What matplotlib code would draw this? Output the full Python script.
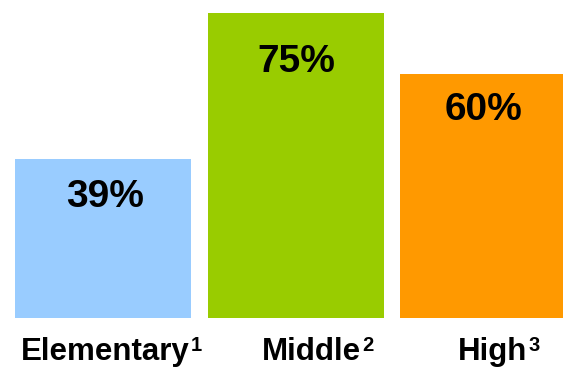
import matplotlib
matplotlib.use("Agg")
import matplotlib.pyplot as plt

plt.rcParams["font.family"] = ["Liberation Sans", "DejaVu Sans"]

# School levels and the share for each
levels = ["Elementary", "Middle", "High"]
footnotes = ["1", "2", "3"]
percent = [39, 75, 60]
colors = ["#99CCFF", "#99CC00", "#FF9900"]

W, H, DPI = 563, 371, 100
fig = plt.figure(figsize=(W / DPI, H / DPI), dpi=DPI)
fig.patch.set_facecolor("white")

# plot area: baseline of bars at 318 px from the top, 75% reaches 13 px
ax = fig.add_axes([0, (H - 318) / H, 1, (318 - 13) / H])
pitch = 192.5
first_center = 103
ax.set_xlim(-first_center / pitch, (W - first_center) / pitch)
ax.set_ylim(0, 75)
ax.axis("off")

xs = list(range(len(levels)))
ax.bar(xs, percent, width=176 / pitch, color=colors, linewidth=0)

# value labels inside the bars (offsets in pixels from bar top centre)
val_dx = [2.5, 1, -5]
val_dy = [-48, -59, -46]
for x, v, dx, dy in zip(xs, percent, val_dx, val_dy):
    ax.annotate(f"{v}%", xy=(x, v), xytext=(dx, dy), textcoords="offset pixels",
                ha="center", va="baseline", fontsize=28, fontweight="bold",
                color="black", annotation_clip=False)

# category labels below the bars, each with a raised footnote number
renderer = fig.canvas.get_renderer()
lab_dx = [8, 22.5, 11]
main_size, sup_size = 22.5, 14.5
sup_raise = 9
gap = 1
baseline_dy = -(360 - 318)
for x, name, fn, dx in zip(xs, levels, footnotes, lab_dx):
    main = ax.annotate(name, xy=(x, 0), xytext=(0, baseline_dy),
                       textcoords="offset pixels", ha="left", va="baseline",
                       fontsize=main_size, fontweight="bold", color="black",
                       annotation_clip=False)
    sup = ax.annotate(fn, xy=(x, 0), xytext=(0, baseline_dy + sup_raise),
                      textcoords="offset pixels", ha="left", va="baseline",
                      fontsize=sup_size, fontweight="bold", color="black",
                      annotation_clip=False)
    w_main = main.get_window_extent(renderer).width
    w_sup = sup.get_window_extent(renderer).width
    total = w_main + gap + w_sup
    left = dx - total / 2
    main.xyann = (left, baseline_dy)
    sup.xyann = (left + w_main + gap, baseline_dy + sup_raise)

fig.savefig("out.png", dpi=DPI, facecolor="white")
